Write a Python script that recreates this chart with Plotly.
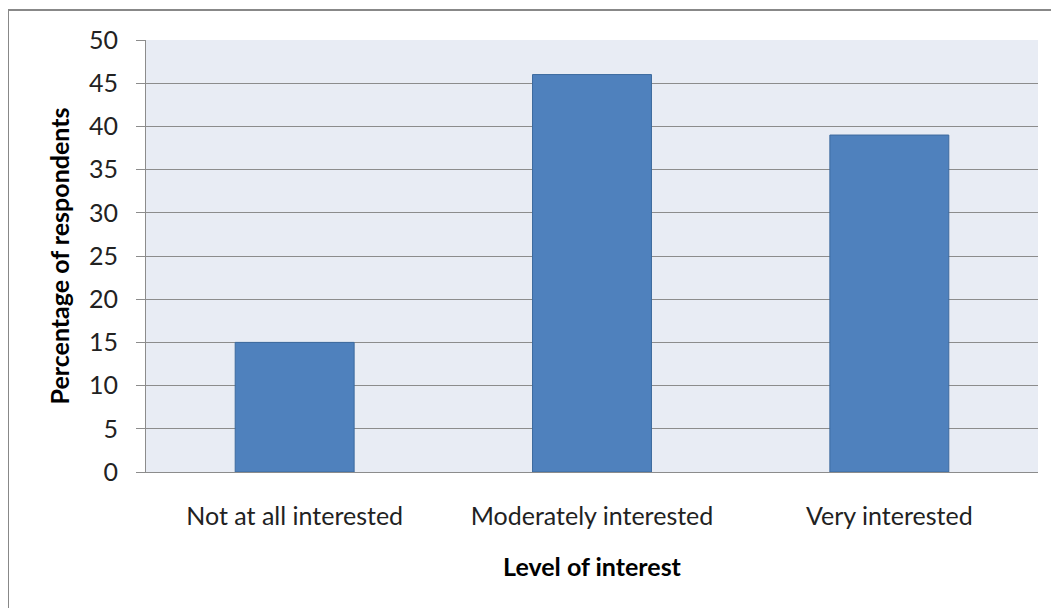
import plotly.graph_objects as go

categories = ["Not at all interested", "Moderately interested", "Very interested"]
values = [15, 46, 39]
y_ticks = [0, 5, 10, 15, 20, 25, 30, 35, 40, 45, 50]

FONT = "Lato"

fig = go.Figure()
fig.add_trace(go.Bar(
    x=categories,
    y=values,
    width=0.4,
    marker=dict(color="#4F81BD", line=dict(color="#3C6A9E", width=1)),
    showlegend=False,
))

# page body has an 8px margin, so figure is sized/offset accordingly
PX0, PW, PY0, PH = 138, 892, 32, 432


def px_x(p):
    return (p - 8 - PX0) / PW


def px_y(p):
    return (PY0 + PH - (p - 8)) / PH


fig.update_layout(
    width=1051,
    height=600,
    margin=dict(l=138, r=21, t=32, b=136),
    paper_bgcolor="white",
    plot_bgcolor="#E8ECF4",
    font=dict(family=FONT, size=25, color="#000000"),
    xaxis=dict(
        showgrid=False,
        showline=True,
        linecolor="#8C8C8C",
        linewidth=1,
        ticks="",
        ticklabelstandoff=22,
        tickfont=dict(family=FONT, size=25, color="#222222"),
        title=dict(text="<b>Level of interest</b>", standoff=29,
                   font=dict(family=FONT, size=25, color="#000000")),
    ),
    yaxis=dict(
        range=[0, 50],
        tickvals=y_ticks,
        showgrid=True,
        gridcolor="#8C8C8C",
        gridwidth=1,
        showline=True,
        linecolor="#8C8C8C",
        linewidth=1,
        ticks="outside",
        ticklen=9,
        tickcolor="#8C8C8C",
        ticklabelstandoff=13,
        zeroline=False,
        tickfont=dict(family=FONT, size=25, color="#222222"),
        title=dict(text="<b>Percentage of respondents</b>", standoff=12,
                   font=dict(family=FONT, size=25, color="#000000")),
    ),
    bargap=0.6,
    shapes=[
        dict(type="line", xref="paper", yref="paper",
             x0=px_x(8), x1=px_x(1070), y0=px_y(10), y1=px_y(10),
             line=dict(color="#888888", width=2), layer="below"),
        dict(type="line", xref="paper", yref="paper",
             x0=px_x(8), x1=px_x(8), y0=px_y(10), y1=px_y(620),
             line=dict(color="#888888", width=2), layer="below"),
    ],
)

fig.write_html("out.html")
